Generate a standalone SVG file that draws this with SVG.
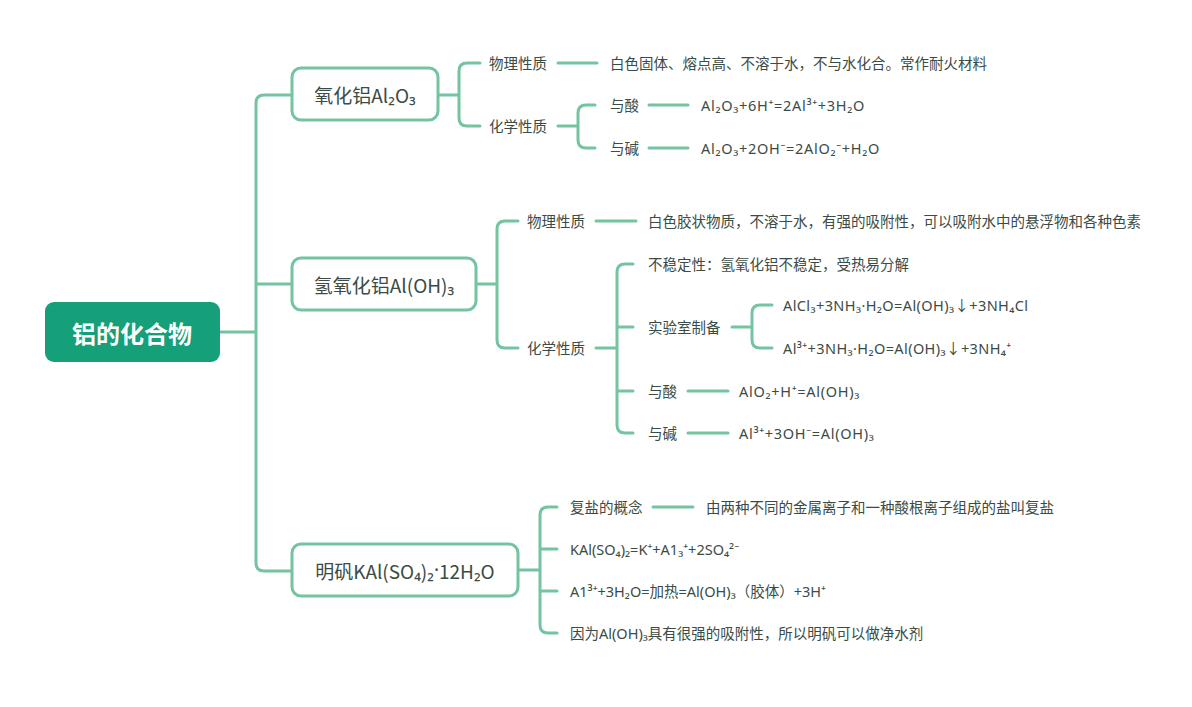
<svg xmlns="http://www.w3.org/2000/svg" width="1192" height="707" viewBox="0 0 1192 707">
<style>
.ln{fill:none;stroke:#74c4a2;stroke-width:3;stroke-linecap:round;stroke-linejoin:round}
.box{fill:#fff;stroke:#74c4a2;stroke-width:3}
.t{font-family:"Noto Sans","Noto Sans CJK SC",sans-serif;font-size:14.5px;fill:#3b4b45;dominant-baseline:central}
.f{letter-spacing:0.7px}
.f2{letter-spacing:0.4px}
.nt{font-family:"Noto Sans CJK SC","Noto Sans",sans-serif;font-size:19px;fill:#3b4b45;dominant-baseline:central;text-anchor:middle}
.lat{font-family:"Noto Sans",sans-serif}
.rt{font-family:"Noto Sans CJK SC","Noto Sans",sans-serif;font-size:24px;font-weight:bold;fill:#fff;dominant-baseline:central;text-anchor:middle}
</style>
<rect width="1192" height="707" fill="#fff"/>
<g id="connectors">
<path class="ln" d="M220,332 H256 M292,95 H264 Q256,95 256,103 V563 Q256,571 264,571 H292 M256,284 H292"/>
<path class="ln" d="M438,95 H459 M480,63 H467 Q459,63 459,71 V118 Q459,126 467,126 H480"/>
<path class="ln" d="M558,63 H597"/>
<path class="ln" d="M558,126 H578 M595,105 H586 Q578,105 578,113 V140 Q578,148 586,148 H595"/>
<path class="ln" d="M649,105 H688 M649,148 H688"/>
<path class="ln" d="M476,284 H497 M518,221 H505 Q497,221 497,229 V340 Q497,348 505,348 H518"/>
<path class="ln" d="M596,221 H636"/>
<path class="ln" d="M596,348 H617 M633,264 H625 Q617,264 617,272 V425 Q617,433 625,433 H633 M617,327 H633 M617,391 H633"/>
<path class="ln" d="M732,327 H752 M772,305 H760 Q752,305 752,313 V340 Q752,348 760,348 H772"/>
<path class="ln" d="M688,391 H728 M688,433 H728"/>
<path class="ln" d="M518,570 H540 M557,507 H548 Q540,507 540,515 V625 Q540,633 548,633 H557 M540,549 H557 M540,591 H557"/>
<path class="ln" d="M653,507 H693"/>
</g>
<g id="root">
<rect x="45" y="302" width="175" height="60" rx="9" fill="#16a079"/>
<text class="rt" x="132" y="332">铝的化合物</text>
</g>
<g id="node-al2o3">
<rect class="box" x="292" y="68" width="146" height="52" rx="9"/>
<text class="nt" x="365" y="94">氧化铝Al₂O₃</text>
<text class="t" x="489" y="63">物理性质</text>
<text class="t" x="610" y="63">白色固体、熔点高、不溶于水，不与水化合。常作耐火材料</text>
<text class="t" x="489" y="126">化学性质</text>
<text class="t" x="610" y="105">与酸</text>
<text class="t f" x="701" y="105">Al₂O₃+6H⁺=2Al³⁺+3H₂O</text>
<text class="t" x="610" y="148">与碱</text>
<text class="t f" x="701" y="148">Al₂O₃+2OH⁻=2AlO₂⁻+H₂O</text>
</g>
<g id="node-aloh3">
<rect class="box" x="292" y="258" width="184" height="52" rx="9"/>
<text class="nt" x="384" y="284">氢氧化铝Al(OH)₃</text>
<text class="t" x="527" y="221">物理性质</text>
<text class="t" x="648" y="221">白色胶状物质，不溶于水，有强的吸附性，可以吸附水中的悬浮物和各种色素</text>
<text class="t" x="527" y="348">化学性质</text>
<text class="t" x="648" y="264">不稳定性：氢氧化铝不稳定，受热易分解</text>
<text class="t" x="648" y="327">实验室制备</text>
<text class="t f2" x="783" y="305">AlCl₃+3NH₃·H₂O=Al(OH)₃↓+3NH₄Cl</text>
<text class="t f2" x="783" y="348">Al³⁺+3NH₃·H₂O=Al(OH)₃↓+3NH₄⁺</text>
<text class="t" x="648" y="391">与酸</text>
<text class="t f" x="739" y="391">AlO₂+H⁺=Al(OH)₃</text>
<text class="t" x="648" y="433">与碱</text>
<text class="t f" x="739" y="433">Al³⁺+3OH⁻=Al(OH)₃</text>
</g>
<g id="node-alum">
<rect class="box" x="292" y="544" width="226" height="52" rx="9"/>
<text class="nt" x="405" y="570">明矾KAl(SO₄)₂<tspan class="lat">·</tspan>12H₂O</text>
<text class="t" x="570" y="507">复盐的概念</text>
<text class="t" x="706" y="507">由两种不同的金属离子和一种酸根离子组成的盐叫复盐</text>
<text class="t" x="570" y="549">KAl(SO₄)₂=K⁺+A1₃⁺+2SO₄²⁻</text>
<text class="t" x="570" y="591">A1³⁺+3H₂O=加热=Al(OH)₃（胶体）+3H⁺</text>
<text class="t" x="570" y="633">因为Al(OH)₃具有很强的吸附性，所以明矾可以做净水剂</text>
</g>
</svg>
